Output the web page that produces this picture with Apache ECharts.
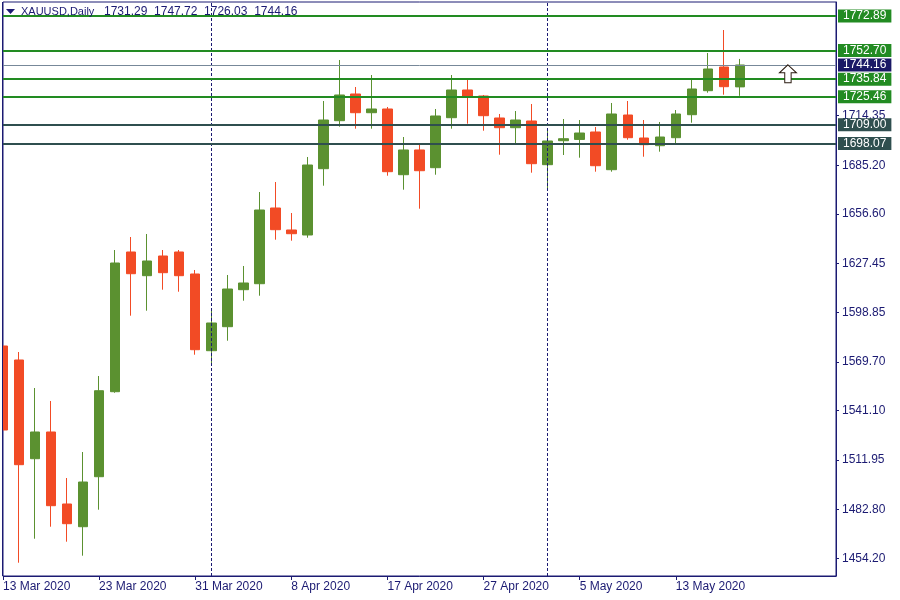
<!DOCTYPE html>
<html>
<head>
<meta charset="utf-8">
<script src="https://cdn.jsdelivr.net/npm/echarts@6/dist/echarts.min.js"></script>
<style>
html,body{margin:0;padding:0;background:#fff;}
#chart{width:900px;height:600px;}
</style>
</head>
<body>
<div id="chart"></div>
<script>
// ---- data ----
const symbolName = 'XAUUSD,Daily';
const dates = ['13 Mar 2020','16 Mar 2020','17 Mar 2020','18 Mar 2020','19 Mar 2020','20 Mar 2020',
  '23 Mar 2020','24 Mar 2020','25 Mar 2020','26 Mar 2020','27 Mar 2020','30 Mar 2020',
  '31 Mar 2020','1 Apr 2020','2 Apr 2020','3 Apr 2020','6 Apr 2020','7 Apr 2020',
  '8 Apr 2020','9 Apr 2020','13 Apr 2020','14 Apr 2020','15 Apr 2020','16 Apr 2020',
  '17 Apr 2020','20 Apr 2020','21 Apr 2020','22 Apr 2020','23 Apr 2020','24 Apr 2020',
  '27 Apr 2020','28 Apr 2020','29 Apr 2020','30 Apr 2020','1 May 2020','4 May 2020',
  '5 May 2020','6 May 2020','7 May 2020','8 May 2020','11 May 2020','12 May 2020',
  '13 May 2020','14 May 2020','15 May 2020','18 May 2020','19 May 2020'];
const opens = [1578.99,1570.76,1512.74,1528.44,1486.12,1472.77,1502.16,1552.12,1634.24,1620.31,1631.89,1634.24,
  1621.31,1576.22,1590.33,1612.08,1615.60,1660.10,1647.17,1644.23,1683.20,1711.41,1727.11,1716.11,
  1718.29,1679.67,1694.20,1683.79,1713.18,1729.46,1725.93,1713.00,1707.30,1711.24,1685.55,1699.65,
  1700.40,1704.77,1682.61,1714.76,1701.24,1696.72,1701.42,1714.94,1729.05,1742.98,1731.29];
const highs = [1598.56,1575.46,1554.30,1546.66,1501.40,1516.68,1561.35,1635.41,1643.05,1644.82,1635.41,1635.41,
  1623.66,1601.15,1620.72,1626.01,1669.50,1675.38,1657.16,1690.08,1722.99,1747.09,1731.22,1738.27,
  1719.47,1701.83,1697.13,1718.29,1738.27,1735.92,1726.52,1715.35,1717.11,1721.23,1705.36,1712.41,
  1711.82,1707.71,1721.82,1722.99,1711.82,1710.65,1717.70,1735.51,1751.21,1764.72,1747.72];
const lows = [1504.51,1451.61,1465.72,1472.77,1463.96,1455.73,1482.77,1551.50,1596.80,1599.73,1612.08,1610.90,
  1573.87,1567.99,1582.10,1605.61,1608.55,1641.47,1640.88,1642.64,1673.21,1707.89,1706.71,1706.71,
  1679.08,1670.86,1659.69,1679.67,1706.71,1709.65,1705.53,1691.43,1697.31,1680.85,1670.86,1691.25,
  1689.67,1681.44,1681.44,1700.24,1690.25,1693.20,1697.89,1710.24,1727.87,1726.70,1726.03];
const closes = [1529.61,1509.22,1528.44,1485.12,1474.54,1499.05,1552.71,1627.77,1621.48,1628.95,1622.07,1620.31,
  1576.81,1592.51,1612.49,1616.02,1658.92,1647.35,1644.99,1685.37,1711.82,1726.52,1716.11,1718.29,
  1681.44,1694.20,1682.02,1714.18,1729.46,1725.52,1714.35,1707.30,1711.82,1686.14,1699.48,1700.83,
  1704.18,1684.96,1715.35,1701.42,1697.31,1701.83,1715.35,1730.05,1741.80,1731.40,1744.16];
const emptySlots = 6;                        // blank bars to the right of the last candle
const resistanceLevels = [1772.89, 1752.70, 1735.84, 1725.46];
const supportLevels = [1709.00, 1698.07];
const priceTicks = [1454.20, 1482.80, 1511.95, 1541.10, 1569.70, 1598.85, 1627.45, 1656.60, 1685.20, 1714.35];
const signalArrow = [[49, 1739.0]];          // [bar index, price]
const labelEvery = 6;

// ---- build ----
const navy = '#1b1a72';
const font = 'Liberation Sans';
const nBars = dates.length;
const cats = dates.concat(Array(emptySlots).fill(''));
const candleData = opens.map((o, i) => [o, closes[i], lows[i], highs[i]]);
const bid = closes[nBars - 1];
const last = nBars - 1;
const monthOf = d => d.split(' ')[1];
const separators = [];
for (let i = 1; i < nBars; i++) if (monthOf(dates[i]) !== monthOf(dates[i - 1])) separators.push(i);

const levelLabel = (bg) => ({
  show: true, position: 'end', distance: 2,
  formatter: p => Number(p.value).toFixed(2),
  color: '#ffffff', backgroundColor: bg, padding: [0, 5, 0, 5],
  lineHeight: 13, fontSize: 12, fontFamily: font
});
const levelLines = [];
resistanceLevels.forEach(v => levelLines.push({ yAxis: v, lineStyle: { color: '#228b22', width: 2, type: 'solid' }, label: levelLabel('#228b22') }));
supportLevels.forEach(v => levelLines.push({ yAxis: v, lineStyle: { color: '#2f4f4f', width: 2, type: 'solid' }, label: levelLabel('#2f4f4f') }));
levelLines.push({ yAxis: bid, lineStyle: { color: '#778899', width: 1, type: 'solid' }, label: levelLabel('#1a1866') });

const showIdx = (i, v) => v !== '' && i % labelEvery === 0;

const chart = echarts.init(document.getElementById('chart'), null, { renderer: 'canvas' });
chart.setOption({
  animation: false,
  backgroundColor: '#ffffff',
  textStyle: { fontFamily: font },
  graphic: [
    { type: 'rect', z: 100, shape: { x: 0, y: 0, width: 2.5, height: 600 }, style: { fill: '#ffffff' } },
    { type: 'line', z: 101, shape: { x1: 2.5, y1: 2, x2: 2.5, y2: 576 }, style: { stroke: navy, lineWidth: 1 } },
    { type: 'polygon', z: 101, shape: { points: [[6, 9], [15, 9], [10.5, 14]] }, style: { fill: navy } },
    { type: 'text', z: 101, x: 21, y: 6, style: { text: symbolName, fill: navy, font: '11px "Liberation Sans"' } },
    { type: 'text', z: 101, x: 104, y: 6, style: {
        text: [opens[last], highs[last], lows[last], closes[last]].map(v => v.toFixed(2)).join('  '),
        fill: navy, font: '12px "Liberation Sans"' } }
  ],
  grid: { left: 3, right: 64, top: 2, bottom: 24, show: true, borderColor: navy, borderWidth: 1, backgroundColor: '#ffffff' },
  xAxis: {
    type: 'category', data: cats, boundaryGap: false,
    axisLine: { show: true, lineStyle: { color: navy, width: 1 } },
    axisTick: { show: true, interval: showIdx, length: 4, lineStyle: { color: navy } },
    axisLabel: { interval: showIdx, align: 'left', margin: 5, color: navy, fontSize: 12, fontFamily: font },
    splitLine: { show: false }
  },
  yAxis: {
    type: 'value', position: 'right', min: 1443.80, max: 1781.18, scale: true,
    axisLine: { show: true, lineStyle: { color: navy, width: 1 } },
    axisTick: { show: true, length: 3, customValues: priceTicks, lineStyle: { color: navy } },
    axisLabel: { customValues: priceTicks, margin: 6, color: navy, fontSize: 12, fontFamily: font,
      formatter: v => Number(v).toFixed(2) },
    splitLine: { show: false }
  },
  series: [
    {
      type: 'line', data: [], z: 1, silent: true,
      markLine: { symbol: 'none', silent: true, label: { show: false },
        lineStyle: { color: navy, width: 1, type: [3, 2] },
        data: separators.map(i => ({ xAxis: i })) }
    },
    {
      type: 'candlestick', data: candleData, z: 3, barWidth: 10, clip: true,
      itemStyle: { color: '#5b9130', color0: '#f24b25', borderColor: '#5b9130', borderColor0: '#f24b25', borderWidth: 1 }
    },
    {
      type: 'line', data: [], z: 5, silent: true,
      markLine: { symbol: 'none', silent: true, animation: false, data: levelLines }
    },
    {
      type: 'scatter', data: signalArrow, z: 6, silent: true,
      symbol: 'path://M8,0 L16,8 L11,8 L11,18 L5,18 L5,8 L0,8 Z', symbolSize: [17, 18],
      itemStyle: { color: '#ffffff', borderColor: '#2a1a10', borderWidth: 1, opacity: 1 }
    }
  ]
});
</script>
</body>
</html>
